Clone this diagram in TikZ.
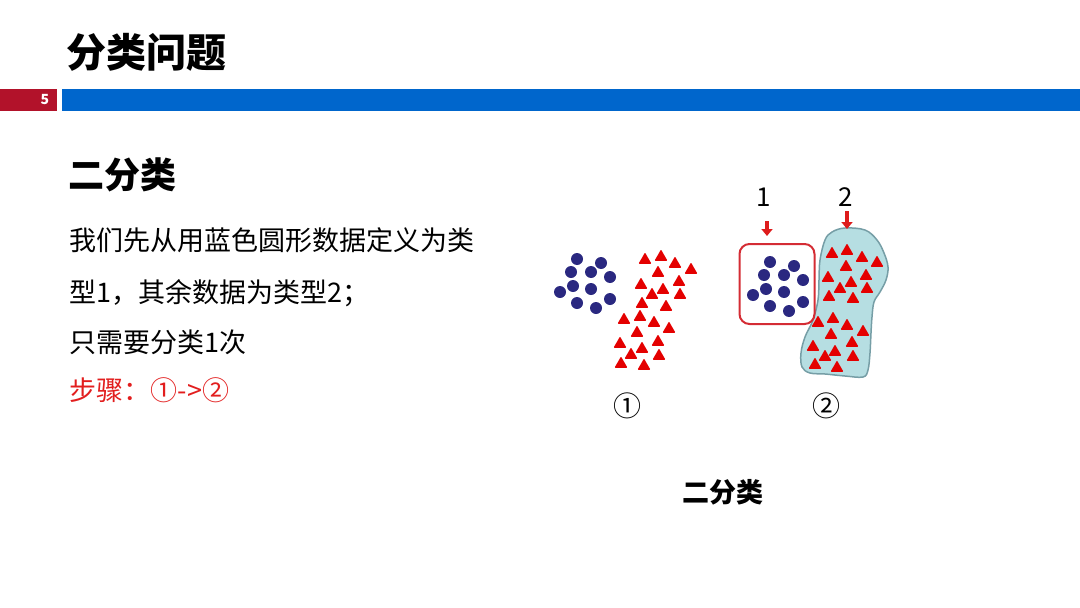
\documentclass[tikz,border=0pt]{standalone}
\usepackage{xcolor}
\usepackage{fontspec}
\setmainfont{Noto Sans CJK SC}
\usepackage{tikz}
\usetikzlibrary{shapes.geometric, arrows.meta, positioning}
\definecolor{barred}{RGB}{178,18,42}
\definecolor{barblue}{RGB}{0,102,204}
\definecolor{dotblue}{RGB}{42,40,128}
\definecolor{trired}{RGB}{228,0,0}
\definecolor{boxred}{RGB}{212,44,52}
\definecolor{markred}{RGB}{222,28,28}
\definecolor{blobfill}{RGB}{182,222,226}
\definecolor{blobline}{RGB}{118,158,166}
\definecolor{steptext}{RGB}{226,30,30}

\begin{document}
\begin{tikzpicture}
  [
    x=1pt, y=-1pt,
    Dot/.style={circle, fill=dotblue, inner sep=0pt, minimum size=12pt},
    Tri/.style={regular polygon, regular polygon sides=3, fill=trired, inner sep=0pt, minimum size=15pt, rounded corners=0.8pt},
    Body/.style={anchor=west, inner sep=0pt, font=\fontsize{27}{32}\selectfont},
    Num/.style={inner sep=0pt, font=\fontsize{26}{30}\selectfont},
    Mark/.style={-{Triangle[length=7pt, width=11pt]}, draw=markred, line width=3.5pt}
  ]
  \useasboundingbox (0,0) rectangle (1080,608);
  % Header
  \fill[barred] (0,89) rectangle (57,111);
  \fill[barblue] (62,89) rectangle (1080,111);
  \node[inner sep=0pt, text=white, font=\fontsize{14}{16}\bfseries] (page) at (45,100) {5};
  \node[anchor=west, inner sep=0pt, font=\fontsize{40}{46}\bfseries] (title) at (66,52) {分类问题};
  % Text
  \node[anchor=west, inner sep=0pt, font=\fontsize{36}{42}\bfseries] (sub) at (68,175) {二分类};
  \node[Body] (line1) at (69,240) {我们先从用蓝色圆形数据定义为类};
  \node[Body] (line2) at (69,293) {型1，其余数据为类型2；};
  \node[Body] (line3) at (69,342) {只需要分类1次};
  \node[Body, text=steptext] (line4) at (69,390) {步骤：①-\kern1pt>②};
  % Cluster 1
  \foreach \x/\y [count=\i] in {577/259, 601/263, 571/272, 591/272, 610/277, 573/286,
      591/289, 560/292, 610/299, 577/303, 596/308}
    \node[Dot] (a\i) at (\x,\y) {};
  \foreach \x/\y [count=\i] in {645/260, 661/257, 675/264, 691/270, 658/273, 679/282,
      641/285, 663/290, 652/295, 680/295, 642/304, 666/307, 640/317, 624/320, 654/323,
      669/329, 637/333, 658/342, 620/344, 642/349, 631/355, 659/356, 621/364, 644/366}
    \node[Tri] (p\i) at (\x,\y) {};
  \node[Num, font=\fontsize{28}{32}\selectfont] (step1) at (627,406) {①};
  % Cluster 2
  \draw[fill=blobfill, draw=blobline, line width=1.5pt] plot[smooth cycle, tension=0.6] coordinates {
      (845,228) (865,230) (877,240) (884,253) (888,267) (886,280) (880,292) (874,302)
      (872,317) (871,333) (870,353) (868,370) (863,377) (845,376) (825,374) (810,373)
      (802,367) (801,353) (805,337) (813,320) (818,300) (819,280) (820,260) (825,240)
      (832,232)};
  \node[draw=boxred, line width=2pt, rounded corners=10pt, minimum width=75pt,
    minimum height=80pt] (box1) at (777,284) {};
  \foreach \x/\y [count=\i] in {577/259, 601/263, 571/272, 591/272, 610/277, 573/286,
      591/289, 560/292, 610/299, 577/303, 596/308}
    \node[Dot] (b\i) at (\x+193,\y+3) {};
  \foreach \x/\y [count=\i] in {832/254, 847/251, 862/258, 877/263, 846/267, 866/276,
      828/278, 851/283, 840/289, 867/289, 829/297, 853/299, 833/319, 818/323, 847/326,
      863/332, 831/335, 852/343, 813/347, 835/352, 825/357, 853/357, 815/365, 837/368}
    \node[Tri] (q\i) at (\x,\y) {};
  \node[Num, font=\fontsize{28}{32}\selectfont] (step2) at (826,406) {②};
  % Labels and arrows
  \node[Num] (one) at (764,197) {1};
  \node[Num] (two) at (846,197) {2};
  \coordinate (one-s) at (767,221);
  \coordinate (one-e) at (767,236);
  \coordinate (two-s) at (847,211);
  \coordinate (two-e) at (847,229);
  \path [Mark] (one-s) -- (one-e);
  \path [Mark] (two-s) -- (two-e);
  % Caption
  \node[inner sep=0pt, font=\fontsize{27}{32}\bfseries] (caption) at (723,492) {二分类};
\end{tikzpicture}
\end{document}
